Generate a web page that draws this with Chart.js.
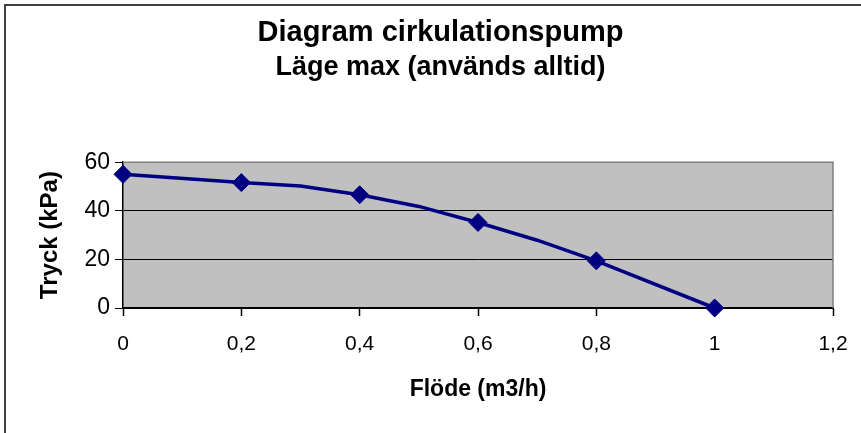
<!DOCTYPE html>
<html>
<head>
<meta charset="utf-8">
<script src="https://cdn.jsdelivr.net/npm/chart.js@4"></script>
<style>
  html, body { margin: 0; padding: 0; background: #fff; }
  #wrap { width: 861px; height: 433px; }
</style>
</head>
<body>
<div id="wrap"><canvas id="chart" width="861" height="433"></canvas></div>
<script>
// ── Data ───────────────────────────────────────────────────────────────────
// linjen (med mellanpunkter utan markör)
const lineFlow     = [0, 0.2, 0.3, 0.4, 0.5, 0.6, 0.7, 0.8, 1.0];
const linePressure = [55, 51.6, 50.2, 46.6, 41.8, 35.2, 27.9, 19.4, 0];
// markerade punkter
const markFlow     = [0, 0.2, 0.4, 0.6, 0.8, 1.0];
const markPressure = [55, 51.6, 46.6, 35.2, 19.4, 0];

const xTickLabels = ['0', '0,2', '0,4', '0,6', '0,8', '1', '1,2'];
const yTickLabels = ['0', '20', '40', '60'];

const FONT = 'Liberation Sans';
const NAVY = '#000080';

// ── Plugins ────────────────────────────────────────────────────────────────
const frame = {
  id: 'frame',
  beforeDraw(chart) {
    const { ctx, chartArea: a } = chart;
    ctx.save();
    ctx.fillStyle = '#fff';
    ctx.fillRect(0, 0, chart.width, chart.height);
    // ram runt diagrammet (beskuren nere/höger)
    ctx.lineWidth = 2;
    ctx.strokeStyle = '#404040';
    ctx.beginPath();
    ctx.moveTo(5, chart.height + 5);
    ctx.lineTo(5, 5);
    ctx.lineTo(chart.width + 5, 5);
    ctx.stroke();
    // grå rityta
    ctx.fillStyle = '#c0c0c0';
    ctx.fillRect(a.left, a.top, a.right - a.left, a.bottom - a.top);
    ctx.restore();
  },
  beforeDatasetsDraw(chart) {
    const { ctx, chartArea: a } = chart;
    ctx.save();
    ctx.strokeStyle = '#808080';
    ctx.lineWidth = 1.5;
    ctx.beginPath();
    ctx.moveTo(a.left, a.top);
    ctx.lineTo(a.right, a.top);
    ctx.lineTo(a.right, a.bottom);
    ctx.stroke();
    ctx.restore();
  }
};

// ── Chart ──────────────────────────────────────────────────────────────────
new Chart(document.getElementById('chart'), {
  type: 'scatter',
  data: {
    datasets: [
      {
        label: 'Kurva',
        data: lineFlow.map((x, i) => ({ x, y: linePressure[i] })),
        showLine: true,
        borderColor: NAVY,
        borderWidth: 3.5,
        pointRadius: 0,
        tension: 0,
      },
      {
        label: 'Mätpunkter',
        data: markFlow.map((x, i) => ({ x, y: markPressure[i] })),
        showLine: false,
        pointStyle: 'rectRot',
        pointRadius: 9,
        backgroundColor: NAVY,
        borderColor: NAVY,
        borderWidth: 1,
      },
    ]
  },
  options: {
    responsive: false,
    animation: false,
    clip: false,
    layout: { padding: { left: 20, right: 0, top: 0, bottom: 0 } },
    plugins: {
      legend: { display: false },
      tooltip: { enabled: false },
      title: {
        display: true,
        text: 'Diagram cirkulationspump',
        color: '#000',
        font: { family: FONT, size: 29, weight: 'bold', lineHeight: 1.2 },
        padding: { top: 16, bottom: 0 },
      },
      subtitle: {
        display: true,
        text: 'Läge max (används alltid)',
        color: '#000',
        font: { family: FONT, size: 27, weight: 'bold', lineHeight: 1.2 },
        padding: { top: 1, bottom: 78 },
      },
    },
    scales: {
      x: {
        type: 'linear',
        min: 0, max: 1.2,
        afterFit: s => { s.height = 125; },
        afterBuildTicks: s => { s.ticks = xTickLabels.map((_, i) => ({ value: i * 0.2 })); },
        ticks: {
          color: '#000',
          font: { family: FONT, size: 21, lineHeight: 1.77 },
          padding: 10,
          maxRotation: 0,
          autoSkip: false,
          callback: (v, i) => xTickLabels[i],
        },
        grid: { drawOnChartArea: false, drawTicks: true, tickLength: 8, tickColor: '#000', tickWidth: 1.5 },
        border: { color: '#000', width: 2 },
        title: {
          display: true,
          text: 'Flöde (m3/h)',
          color: '#000',
          font: { family: FONT, size: 23, weight: 'bold', lineHeight: 1.2 },
          padding: { top: 0, bottom: 30 },
        },
      },
      y: {
        min: 0, max: 60,
        afterFit: s => { s.width = 103; },
        afterBuildTicks: s => { s.ticks = yTickLabels.map(t => ({ value: +t })); },
        ticks: {
          color: '#000',
          font: { family: FONT, size: 23 },
          padding: 5,
          callback: (v, i) => yTickLabels[i],
        },
        grid: {
          color: c => (c.tick && c.tick.value === 60 ? 'rgba(0,0,0,0)' : '#000'),
          lineWidth: 1,
          tickLength: 8,
          tickColor: '#000',
        },
        border: { color: '#000', width: 1.5 },
        title: {
          display: true,
          text: 'Tryck (kPa)',
          color: '#000',
          font: { family: FONT, size: 24, weight: 'bold', lineHeight: 1.2 },
          padding: { top: 16, bottom: 0 },
        },
      },
      // tom axel till höger för att hålla ritytan på plats
      y2: {
        position: 'right',
        display: true,
        afterFit: s => { s.width = 28; },
        ticks: { display: false },
        grid: { display: false },
        border: { display: false },
      },
    }
  },
  plugins: [frame],
});
</script>
</body>
</html>
